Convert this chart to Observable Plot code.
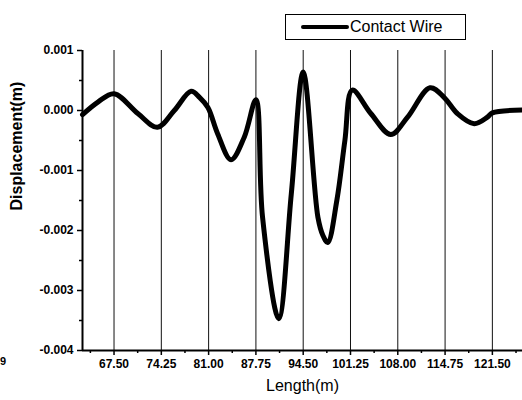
<!DOCTYPE html>
<html><head><meta charset="utf-8">
<script src="https://cdn.jsdelivr.net/npm/d3@7"></script>
<script src="https://cdn.jsdelivr.net/npm/@observablehq/plot@0.6"></script>
<style>
body{margin:0;background:#fff;overflow:hidden}
#wrap{position:relative;width:522px;height:400px;font-family:"Liberation Sans",Arial,sans-serif}
#legend{position:absolute;left:285px;top:14px;width:181px;height:26px;border:1.5px solid #000;box-sizing:border-box;background:#fff}
#legend .sw{position:absolute;left:15px;top:10px;width:48px;height:4px;background:#000;border-radius:2px}
#legend .tx{position:absolute;left:64px;top:3px;font-size:16px;line-height:18px;color:#000}
#stray{position:absolute;left:0px;top:355px;font-size:11px;font-weight:bold;color:#000}
</style></head><body><div id="wrap"></div>
<script>
const lengthM = [63.0, 65.2, 67.5, 70.9, 73.7, 76.1, 78.5, 79.7, 80.9, 82.3, 84.2, 86.1, 87.75, 88.7, 91.0, 92.8, 94.5, 96.6, 97.3, 98.0, 99.3, 100.45, 101.5, 104.15, 107.0, 109.4, 112.6, 114.6, 116.5, 118.9, 120.8, 121.5, 125.8];
const displacementM = [-0.00007, 0.00014, 0.00028, -0.00005, -0.00028, 0.0, 0.00032, 0.00022, 0.00005, -0.00039, -0.00082, -0.00044, 0.00018, -0.00178, -0.00347, -0.00139, 0.00064, -0.00178, -0.00208, -0.0022, -0.0015, -0.0005, 0.00034, -0.00005, -0.0004, -0.00011, 0.00038, 0.00022, -0.00005, -0.00022, -0.00011, -0.00004, 0.00001];
const dropperX = [67.5, 74.25, 81, 87.75, 94.5, 101.25, 108, 114.75, 121.5];
const xMinor = [64.125, 70.875, 77.625, 84.375, 91.125, 97.875, 104.625, 111.375, 118.125, 124.875];
const yTicks = [0.001, 0, -0.001, -0.002, -0.003, -0.004];
const yMinor = [0.0005, -0.0005, -0.0015, -0.0025, -0.0035];
const seriesName = "Contact Wire";
const xTitle = "Length(m)";
const yTitle = "Displacement(m)";

const data = lengthM.map((x, i) => ({x, y: displacementM[i]}));

const chart = Plot.plot({
  width: 522, height: 400,
  marginLeft: 82, marginRight: 0, marginTop: 50, marginBottom: 50,
  style: {fontFamily: "'Liberation Sans', Arial, sans-serif", fontWeight: "bold", color: "#000", background: "#fff"},
  x: {domain: [63, 125.8], label: null},
  y: {domain: [-0.004, 0.001], label: null},
  marks: [
    Plot.ruleX(dropperX, {y1: -0.004, y2: 0.001, stroke: "#111", strokeWidth: 1}),
    Plot.line(data, {x: "x", y: "y", curve: "catmull-rom", stroke: "#000", strokeWidth: 5, strokeLinejoin: "round", strokeLinecap: "round"}),
    Plot.ruleX([63], {y1: -0.004, y2: 0.001, stroke: "#000", strokeWidth: 2}),
    Plot.ruleY([-0.004], {stroke: "#000", strokeWidth: 2}),
    Plot.axisX({ticks: dropperX, tickFormat: d => d.toFixed(2), tickSize: 5, tickPadding: 4, fontSize: 12, fontWeight: "bold", label: null, strokeWidth: 1.5}),
    Plot.axisX({ticks: xMinor, tickFormat: () => "", tickSize: 3, label: null, strokeWidth: 1.5}),
    Plot.axisY({ticks: yTicks, tickFormat: d => d.toFixed(3), tickSize: 5, tickPadding: 4, fontSize: 12, fontWeight: "bold", label: null, strokeWidth: 1.5}),
    Plot.axisY({ticks: yMinor, tickFormat: () => "", tickSize: 3, label: null, strokeWidth: 1.5}),
    Plot.text([yTitle], {frameAnchor: "left", rotate: -90, dx: -66, dy: 10, fontSize: 16, fontWeight: "bold", fill: "#000"}),
    Plot.text([xTitle], {frameAnchor: "bottom", dy: 40, fontSize: 16, fontWeight: "normal", fill: "#000"})
  ]
});

const wrap = document.getElementById("wrap");
wrap.appendChild(chart);
const leg = document.createElement("div");
leg.id = "legend";
leg.innerHTML = '<span class="sw"></span><span class="tx"></span>';
leg.querySelector(".tx").textContent = seriesName;
wrap.appendChild(leg);
const stray = document.createElement("div");
stray.id = "stray";
stray.textContent = "9";
wrap.appendChild(stray);
</script></body></html>
